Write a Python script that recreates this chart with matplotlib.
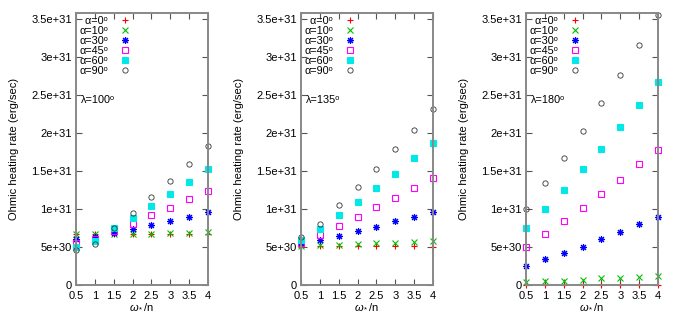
import matplotlib
matplotlib.use('Agg')
import matplotlib.pyplot as plt

plt.rcParams['font.family'] = ['Liberation Sans', 'DejaVu Sans']
plt.rcParams['mathtext.fontset'] = 'custom'
plt.rcParams['mathtext.rm'] = 'Liberation Sans'
plt.rcParams['mathtext.it'] = 'Liberation Sans:italic'

omega = [0.5, 1.0, 1.5, 2.0, 2.5, 3.0, 3.5, 4.0]
alphas = [0, 10, 30, 45, 60, 90]
lambdas = [100, 135, 180]

# heating rate in units of 1e31 erg/sec, one list per alpha
rate_100 = [
    [0.66, 0.66, 0.66, 0.66, 0.66, 0.66, 0.66, 0.66],
    [0.66, 0.67, 0.67, 0.67, 0.67, 0.68, 0.68, 0.69],
    [0.60, 0.63, 0.68, 0.73, 0.785, 0.84, 0.89, 0.95],
    [0.55, 0.60, 0.71, 0.80, 0.91, 1.01, 1.12, 1.23],
    [0.50, 0.57, 0.74, 0.87, 1.03, 1.19, 1.35, 1.52],
    [0.45, 0.53, 0.75, 0.94, 1.15, 1.36, 1.58, 1.82],
]
rate_135 = [
    [0.50, 0.51, 0.51, 0.51, 0.51, 0.51, 0.51, 0.50],
    [0.51, 0.52, 0.52, 0.53, 0.54, 0.55, 0.56, 0.57],
    [0.54, 0.59, 0.645, 0.71, 0.76, 0.83, 0.89, 0.96],
    [0.55, 0.65, 0.77, 0.89, 1.02, 1.14, 1.27, 1.40],
    [0.58, 0.73, 0.91, 1.09, 1.27, 1.46, 1.66, 1.86],
    [0.62, 0.80, 1.04, 1.28, 1.52, 1.78, 2.04, 2.31],
]
rate_180 = [
    [0.0, 0.0, 0.0, 0.0, 0.0, 0.0, 0.0, 0.0],
    [0.03, 0.04, 0.05, 0.06, 0.08, 0.09, 0.10, 0.11],
    [0.25, 0.34, 0.42, 0.50, 0.60, 0.69, 0.79, 0.89],
    [0.50, 0.67, 0.84, 1.01, 1.19, 1.38, 1.58, 1.77],
    [0.75, 1.00, 1.25, 1.52, 1.79, 2.07, 2.36, 2.66],
    [0.99, 1.33, 1.67, 2.02, 2.39, 2.76, 3.15, 3.55],
]
rates = [rate_100, rate_135, rate_180]

styles = [
    dict(marker='+', color='#ff0000', mfc='none', ms=5, mew=0.8),
    dict(marker='x', color='#00c000', mfc='none', ms=4, mew=0.8),
    dict(marker=(8, 2, 0), color='#0000ff', mfc='none', ms=5, mew=0.8),
    dict(marker='s', color='#ff00ff', mfc='none', ms=4.5, mew=0.8),
    dict(marker='s', color='#00e8e8', mfc='#00e8e8', ms=4.5, mew=0.8),
    dict(marker='o', color='#333333', mfc='none', ms=3.8, mew=0.6),
]

fig = plt.figure(figsize=(6.75, 3.15), dpi=100)
lefts = [0.1126, 0.4459, 0.7793]
yticks = [0, 0.5e31, 1e31, 1.5e31, 2e31, 2.5e31, 3e31, 3.5e31]
ylabels = ['0', '5e+30', '1e+31', '1.5e+31', '2e+31', '2.5e+31', '3e+31', '3.5e+31']

for left, lam, data in zip(lefts, lambdas, rates):
    ax = fig.add_axes([left, 0.0968, 0.1956, 0.8635])
    for a, vals, st in zip(alphas, data, styles):
        lab = ('\u2007' if a < 10 else '') + 'α=%d\u1d52' % a
        ax.plot(omega, [v * 1e31 for v in vals], ls='none', label=lab,
                clip_on=False, **st)
    ax.set_xlim(0.5, 4)
    ax.set_ylim(0, 3.58e31)
    ax.set_xticks(omega)
    ax.set_xticklabels(['0.5', '1', '1.5', '2', '2.5', '3', '3.5', '4'], fontsize=8)
    ax.set_yticks(yticks)
    ax.set_yticklabels(ylabels, fontsize=8)
    ax.tick_params(direction='in', top=True, right=True, length=4,
                   width=0.8, color='#555555', pad=3)
    ax.tick_params(axis='x', pad=5)
    for sp in ax.spines.values():
        sp.set_color('#888888')
        sp.set_linewidth(1.4)
    ax.set_xlabel(r'$\omega_*$/n', fontsize=8, labelpad=0)
    ax.set_ylabel('Ohmic heating rate (erg/sec)', fontsize=8, labelpad=9)
    ax.legend(loc='upper left', frameon=False, fontsize=7.8, markerfirst=False,
              handlelength=1.0, handletextpad=1.1, labelspacing=0.0,
              borderaxespad=0.1, borderpad=0.2)
    ax.text(0.04, 0.68, 'λ=%d\u1d52' % lam, transform=ax.transAxes,
            fontsize=7.8, va='center', ha='left')

fig.savefig('out.png', dpi=100)
